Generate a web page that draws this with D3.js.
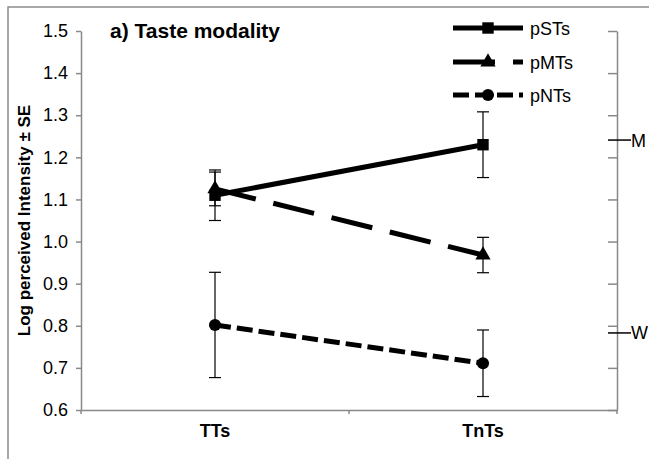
<!DOCTYPE html>
<html lang="en">
<head>
	<meta charset="UTF-8">
	<title>Taste modality</title>
	<script src="https://cdn.jsdelivr.net/npm/d3@7"></script>
	<style>
		body { margin: 0; background: #fff; }
		text { font-family: "Liberation Sans", Arial, sans-serif; fill: #000; }
	</style>
</head>
<body>
<div id="chart"></div>
<script>
var categories = ["TTs", "TnTs"];
var seriesNames = ["pSTs", "pMTs", "pNTs"];
var pSTs = [1.11, 1.23];
var pMTs = [1.125, 0.968];
var pNTs = [0.802, 0.711];
var pSTsSE = [0.06, 0.078];
var pMTsSE = [0.04, 0.042];
var pNTsSE = [0.125, 0.079];
var yTicks = [0.6, 0.7, 0.8, 0.9, 1.0, 1.1, 1.2, 1.3, 1.4, 1.5];
var refLabels = ["M", "W"];
var refValues = [1.241, 0.783];

var W = 649, H = 459;
var axisGray = "#898989";

var svg = d3.select("#chart").append("svg")
	.attr("width", W).attr("height", H);

// chart area frame (cropped on right and bottom)
svg.append("path")
	.attr("d", "M8," + H + "V7H" + W)
	.attr("fill", "none").attr("stroke", "#8c8c8c").attr("stroke-width", 1.5);

var x = d3.scaleBand().domain(categories).range([81, 617]);
var y = d3.scaleLinear().domain([0.6, 1.5]).range([410, 31]);

// left axis
var yAxis = d3.axisLeft(y).tickValues(yTicks).tickFormat(d3.format(".1f"))
	.tickSize(5).tickSizeOuter(0).tickPadding(8);
var gl = svg.append("g").attr("transform", "translate(81,0)").call(yAxis);
gl.selectAll("text").style("font-size", "18px").attr("font-family", null);
gl.selectAll("line, path").attr("stroke", axisGray).attr("stroke-width", 1.5);

// right axis, ticks pointing inward
var yAxisR = d3.axisLeft(y).tickValues(yTicks).tickFormat("").tickSize(9).tickSizeOuter(0);
var gr = svg.append("g").attr("transform", "translate(617,0)").call(yAxisR);
gr.selectAll("line, path").attr("stroke", axisGray).attr("stroke-width", 1.5);

// bottom axis
var xAxis = d3.axisBottom(x).tickSize(0).tickSizeOuter(0).tickPadding(14);
var gb = svg.append("g").attr("transform", "translate(0,410)").call(xAxis);
gb.selectAll("text").style("font-size", "18px").style("font-weight", "bold").attr("font-family", null);
gb.select("path").attr("stroke", axisGray).attr("stroke-width", 1.5);
var bounds = categories.map(function(c){ return x(c); }).concat([x.range()[1]]);
svg.selectAll(".xtick").data(bounds).enter().append("line")
	.attr("x1", function(d){ return d; }).attr("x2", function(d){ return d; })
	.attr("y1", 410).attr("y2", 414)
	.attr("stroke", axisGray).attr("stroke-width", 1.5);

// y axis title
svg.append("text")
	.attr("transform", "translate(30," + ((y.range()[0] + y.range()[1]) / 2) + ") rotate(-90)")
	.attr("text-anchor", "middle")
	.style("font-size", "17px").style("font-weight", "bold")
	.text("Log perceived Intensity \u00b1 SE");

// chart title
svg.append("text").attr("x", 110).attr("y", 38)
	.style("font-size", "21px").style("font-weight", "bold")
	.text("a) Taste modality");

// reference marks on right axis
refValues.forEach(function(v, i){
	svg.append("line").attr("x1", 608).attr("x2", 631)
		.attr("y1", y(v)).attr("y2", y(v))
		.attr("stroke", "#000").attr("stroke-width", 1.5);
	svg.append("text").attr("x", 631).attr("y", y(v) + 6.5)
		.style("font-size", "18px").text(refLabels[i]);
});

var series = [
	{ name: seriesNames[0], vals: pSTs, se: pSTsSE, dash: null, marker: d3.symbolSquare, size: 130 },
	{ name: seriesNames[1], vals: pMTs, se: pMTsSE, dash: "42 18", marker: d3.symbolTriangle, size: 100 },
	{ name: seriesNames[2], vals: pNTs, se: pNTsSE, dash: "16 6", marker: d3.symbolCircle, size: 115 }
];

var line = d3.line()
	.x(function(d,i){ return x(categories[i]) + x.bandwidth() / 2; })
	.y(function(d){ return y(d); });

series.forEach(function(s){
	svg.append("path").attr("d", line(s.vals))
		.attr("fill", "none").attr("stroke", "#000").attr("stroke-width", 5)
		.attr("stroke-dasharray", s.dash);
});

// error bars
series.forEach(function(s){
	s.vals.forEach(function(v, i){
		var cx = x(categories[i]) + x.bandwidth() / 2;
		var g = svg.append("g").attr("stroke", "#000").attr("stroke-width", 1.2);
		g.append("line").attr("x1", cx).attr("x2", cx).attr("y1", y(v - s.se[i])).attr("y2", y(v + s.se[i]));
		[v - s.se[i], v + s.se[i]].forEach(function(e){
			g.append("line").attr("x1", cx - 6).attr("x2", cx + 6).attr("y1", y(e)).attr("y2", y(e));
		});
	});
});

// markers
series.forEach(function(s){
	s.vals.forEach(function(v, i){
		var cx = x(categories[i]) + x.bandwidth() / 2;
		svg.append("path").attr("d", d3.symbol().type(s.marker).size(s.size)())
			.attr("transform", "translate(" + cx + "," + y(v) + ")")
			.attr("fill", "#000");
	});
});

// legend
var legendY = [28, 62, 95];
series.forEach(function(s, i){
	var ly = legendY[i];
	svg.append("line").attr("x1", 453).attr("x2", 523).attr("y1", ly).attr("y2", ly)
		.attr("stroke", "#000").attr("stroke-width", 5).attr("stroke-dasharray", s.dash);
	svg.append("path").attr("d", d3.symbol().type(s.marker).size(s.size)())
		.attr("transform", "translate(488," + ly + ")").attr("fill", "#000");
	svg.append("text").attr("x", 530).attr("y", ly + 6.5)
		.style("font-size", "18px").text(s.name);
});
</script>
</body>
</html>
